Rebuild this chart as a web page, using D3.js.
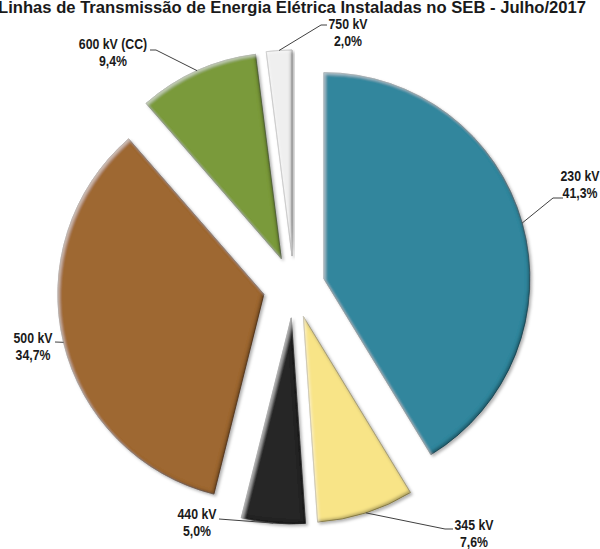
<!DOCTYPE html>
<html>
<head>
<meta charset="utf-8">
<script src="https://cdn.jsdelivr.net/npm/d3@7"></script>
<style>
  html, body { margin: 0; padding: 0; background: #fff; }
  svg { display: block; }
  text { font-family: "Liberation Sans", Arial, sans-serif; font-weight: bold; fill: #1a1a1a; }
</style>
</head>
<body>
<svg id="chart" width="600" height="549"></svg>
<script>
// Voltage classes and their share of installed transmission lines (%)
const categories = ["230 kV", "345 kV", "440 kV", "500 kV", "600 kV (CC)", "750 kV"];
const shares = [41.3, 7.6, 5.0, 34.7, 9.4, 2.0];
const sliceColors = ["#33869d", "#f8e487", "#262626", "#9e6732", "#7a9a3a", "#efefef"];
const title = "Linhas de Transmissão de Energia Elétrica Instaladas no SEB - Julho/2017";

// Label placement: text anchor (centre, first baseline) and elbow of the leader line
const labelLayout = [
  { x: 580, y: 181, elbow: [553, 198], end: [563, 198] },
  { x: 474, y: 530, elbow: [445, 529], end: [453, 529] },
  { x: 197, y: 519, elbow: [219, 519], end: [219, 519] },
  { x: 33,  y: 343, elbow: [55, 342],  end: [55, 342] },
  { x: 113, y: 49,  elbow: [156, 50],  end: [150, 50] },
  { x: 348, y: 29,  elbow: [321, 25],  end: [327, 25] }
];

const W = 600, H = 549;
const cx = 294, cy = 287, R = 206, explode = 31;

const svg = d3.select("#chart");
const defs = svg.append("defs");

// Soft bevel: darker inner edge at the lower right, light rim at the upper left, faint drop shadow
const f = defs.append("filter").attr("id", "bevel")
  .attr("x", "-10%").attr("y", "-10%").attr("width", "120%").attr("height", "120%");
f.append("feGaussianBlur").attr("in", "SourceAlpha").attr("stdDeviation", 1.6).attr("result", "blur");
f.append("feOffset").attr("in", "blur").attr("dx", -2.2).attr("dy", -2.2).attr("result", "offDark");
f.append("feComposite").attr("in", "SourceAlpha").attr("in2", "offDark").attr("operator", "out").attr("result", "edgeDark");
f.append("feFlood").attr("flood-color", "#000").attr("flood-opacity", 0.55).attr("result", "black");
f.append("feComposite").attr("in", "black").attr("in2", "edgeDark").attr("operator", "in").attr("result", "dark");
f.append("feOffset").attr("in", "blur").attr("dx", 2).attr("dy", 2).attr("result", "offLight");
f.append("feComposite").attr("in", "SourceAlpha").attr("in2", "offLight").attr("operator", "out").attr("result", "edgeLight");
f.append("feFlood").attr("flood-color", "#fff").attr("flood-opacity", 0.45).attr("result", "white");
f.append("feComposite").attr("in", "white").attr("in2", "edgeLight").attr("operator", "in").attr("result", "light");
f.append("feOffset").attr("in", "blur").attr("dx", 1.5).attr("dy", 1.5).attr("result", "shOff");
f.append("feFlood").attr("flood-color", "#000").attr("flood-opacity", 0.3).attr("result", "shCol");
f.append("feComposite").attr("in", "shCol").attr("in2", "shOff").attr("operator", "in").attr("result", "shadow");
const merge = f.append("feMerge");
["shadow", "SourceGraphic", "dark", "light"].forEach(n => merge.append("feMergeNode").attr("in", n));

// Title (bold, condensed, runs to the frame edges)
svg.append("text")
  .attr("x", -2).attr("y", 12.5)
  .attr("font-size", 16.5)
  .attr("textLength", 588).attr("lengthAdjust", "spacingAndGlyphs")
  .text(title);

const pie = d3.pie().sort(null).value(d => d)(shares);
const arc = d3.arc().innerRadius(0).outerRadius(R);

const g = svg.append("g").attr("transform", `translate(${cx},${cy})`);

const dir = a => [Math.sin(a), -Math.cos(a)];

g.selectAll("path.slice")
  .data(pie)
  .join("path")
  .attr("class", "slice")
  .attr("d", arc)
  .attr("transform", d => {
    const m = (d.startAngle + d.endAngle) / 2;
    const [ux, uy] = dir(m);
    return `translate(${ux * explode},${uy * explode})`;
  })
  .attr("fill", (d, i) => sliceColors[i])
  .attr("stroke", (d, i) => i === 5 ? "#9a9a9a" : d3.color(sliceColors[i]).darker(1.2))
  .attr("stroke-width", 0.8)
  .attr("filter", "url(#bevel)");

// Decimal comma for percentages
const fmt = d3.formatLocale({ decimal: ",", thousands: ".", grouping: [3], currency: ["", ""] }).format(".1f");

// Leader lines from each label to the outer arc at the slice's mid-angle
pie.forEach((d, i) => {
  const m = (d.startAngle + d.endAngle) / 2;
  const [ux, uy] = dir(m);
  const tip = [cx + ux * (explode + R), cy + uy * (explode + R)];
  const L = labelLayout[i];
  svg.append("path")
    .attr("d", d3.line()([L.end, L.elbow, tip]))
    .attr("fill", "none")
    .attr("stroke", "#404040")
    .attr("stroke-width", 1);

  // Narrow bold labels: slightly condensed horizontally
  const t = svg.append("text")
    .attr("text-anchor", "middle")
    .attr("font-size", 14)
    .attr("transform", `translate(${L.x},${L.y}) scale(0.88,1)`);
  t.append("tspan").attr("x", 0).attr("y", 0).text(categories[i]);
  t.append("tspan").attr("x", 0).attr("y", 17).text(fmt(shares[i]) + "%");
});
</script>
</body>
</html>
